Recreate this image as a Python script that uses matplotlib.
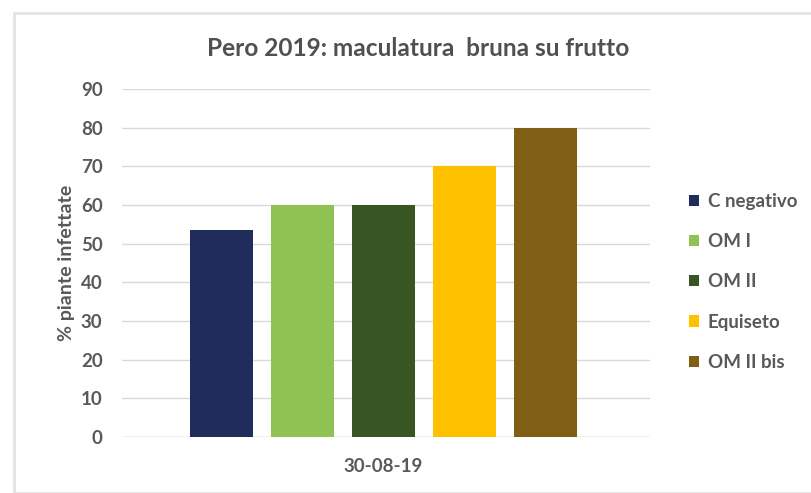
import matplotlib
matplotlib.use("Agg")
import matplotlib.pyplot as plt
from matplotlib.patches import Rectangle

# Data
categories = ["C negativo", "OM I", "OM II", "Equiseto", "OM II bis"]
values = [53.5, 60, 60, 70, 80]
colors = ["#1f2c5c", "#8fc153", "#375623", "#ffc000", "#7f5f14"]
date_label = "30-08-19"
yticks = [0, 10, 20, 30, 40, 50, 60, 70, 80, 90]

plt.rcParams["font.family"] = ["Lato", "DejaVu Sans"]
text_color = "#595959"

fig = plt.figure(figsize=(8.11, 4.93), dpi=100)
fig.patch.set_facecolor("white")

# Chart frame
fig.patches.append(Rectangle((14 / 811, 0.5 / 493), 800 / 811, 479.5 / 493,
                             transform=fig.transFigure, fill=False,
                             edgecolor="#e3e3e3", linewidth=2))

ax = fig.add_axes([122 / 811, 1 - 437 / 493, 528 / 811, 348 / 493])

width = 0.78
x = list(range(len(categories)))
bars = ax.bar(x, values, width=width, color=colors, label=categories, zorder=3)

ax.set_ylim(0, 90)
ax.set_xlim(-1.23, 5.29)
ax.set_yticks(yticks)
ax.set_yticklabels([str(t) for t in yticks], fontsize=13.5, color=text_color,
                   fontweight="bold")
ax.set_xticks([2])
ax.set_xticklabels([date_label], fontsize=13.5, color=text_color, fontweight="bold")
ax.tick_params(axis="y", length=0, pad=14)
ax.tick_params(axis="x", length=0, pad=15)

ax.grid(axis="y", color="#d9d9d9", linewidth=1, zorder=0)
for s in ax.spines.values():
    s.set_visible(False)
ax.axhline(0, color="#d9d9d9", linewidth=1, zorder=2)

ax.set_ylabel("% piante infettate", fontsize=14, color=text_color,
              fontweight="bold", labelpad=4)

fig.text(418 / 811, 1 - 49 / 493, "Pero 2019: maculatura  bruna su frutto",
         ha="center", va="center", fontsize=17.6, color="#505050",
         fontweight="bold")

leg = ax.legend(handles=bars, labels=categories, loc="upper left",
                bbox_to_anchor=(672 / 811, 1 - 176 / 493),
                bbox_transform=fig.transFigure, frameon=False,
                fontsize=13.5, handlelength=0.55, handleheight=0.55,
                handletextpad=0.45, labelspacing=1.24)
for t in leg.get_texts():
    t.set_color(text_color)
    t.set_fontweight("bold")

fig.savefig("out.png", dpi=100)
